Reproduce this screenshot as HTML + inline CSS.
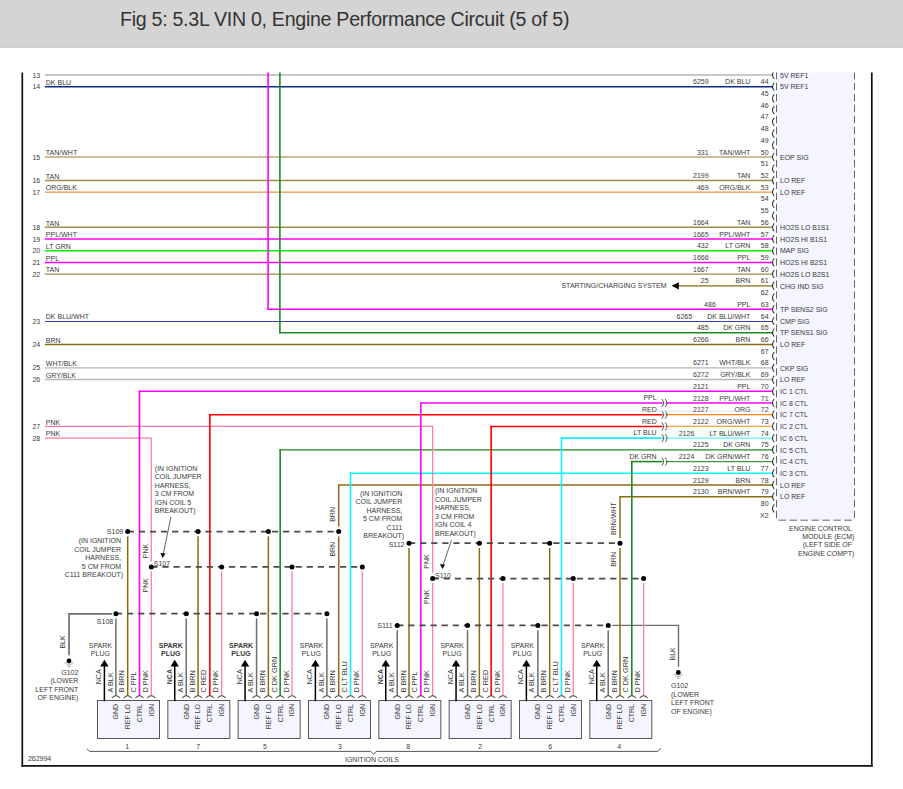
<!DOCTYPE html>
<html><head><meta charset="utf-8"><style>
html,body{margin:0;padding:0;background:#fff;}
body{width:903px;height:789px;overflow:hidden;position:relative;font-family:"Liberation Sans",sans-serif;}
#hdr{position:absolute;left:0;top:0;width:903px;height:47px;background:#d4d4d4;border-bottom:1px solid #cecece;}
#ttl{position:absolute;left:120px;top:10.4px;font-size:19.6px;letter-spacing:-0.28px;line-height:1;color:#333;white-space:nowrap;}
svg{position:absolute;left:0;top:0;}
svg text{font-family:"Liberation Sans",sans-serif;}
</style></head><body>
<div id="hdr"><div id="ttl">Fig 5: 5.3L VIN 0, Engine Performance Circuit (5 of 5)</div></div>
<svg width="903" height="789" viewBox="0 0 903 789">
<defs><clipPath id="cp"><rect x="0" y="72.5" width="903" height="717"/></clipPath></defs>
<g clip-path="url(#cp)">
<line x1="45.60" y1="74.98" x2="772.50" y2="74.98" stroke="#b6b6b6" stroke-width="1.45" stroke-linecap="square" />
<line x1="45.60" y1="86.70" x2="772.50" y2="86.70" stroke="#0b2a8c" stroke-width="1.45" stroke-linecap="square" />
<line x1="45.60" y1="156.99" x2="772.50" y2="156.99" stroke="#b9a878" stroke-width="1.45" stroke-linecap="square" />
<line x1="45.60" y1="180.42" x2="772.50" y2="180.42" stroke="#a08a4c" stroke-width="1.45" stroke-linecap="square" />
<line x1="45.60" y1="192.13" x2="772.50" y2="192.13" stroke="#ec9444" stroke-width="1.45" stroke-linecap="square" />
<line x1="45.60" y1="227.28" x2="772.50" y2="227.28" stroke="#a08a4c" stroke-width="1.45" stroke-linecap="square" />
<line x1="45.60" y1="239.00" x2="772.50" y2="239.00" stroke="#ff00ff" stroke-width="1.6" stroke-linecap="square" />
<line x1="45.60" y1="250.71" x2="772.50" y2="250.71" stroke="#10f010" stroke-width="1.6" stroke-linecap="square" />
<line x1="45.60" y1="262.43" x2="772.50" y2="262.43" stroke="#ff00ff" stroke-width="1.6" stroke-linecap="square" />
<line x1="45.60" y1="274.14" x2="772.50" y2="274.14" stroke="#a08a4c" stroke-width="1.45" stroke-linecap="square" />
<line x1="678.50" y1="285.86" x2="772.50" y2="285.86" stroke="#8b6a14" stroke-width="1.45" stroke-linecap="square" />
<line x1="268.10" y1="309.29" x2="772.50" y2="309.29" stroke="#ff00ff" stroke-width="1.6" stroke-linecap="square" />
<line x1="45.60" y1="321.50" x2="772.50" y2="321.50" stroke="#3545a0" stroke-width="1.0" stroke-linecap="square" />
<line x1="279.90" y1="332.71" x2="772.50" y2="332.71" stroke="#1f8a1f" stroke-width="1.45" stroke-linecap="square" />
<line x1="45.60" y1="344.43" x2="772.50" y2="344.43" stroke="#8b6a14" stroke-width="1.45" stroke-linecap="square" />
<line x1="45.60" y1="367.86" x2="772.50" y2="367.86" stroke="#b6b6b6" stroke-width="1.45" stroke-linecap="square" />
<line x1="45.60" y1="379.57" x2="772.50" y2="379.57" stroke="#b6b6b6" stroke-width="1.45" stroke-linecap="square" />
<line x1="139.50" y1="391.29" x2="772.50" y2="391.29" stroke="#ff00ff" stroke-width="1.6" stroke-linecap="square" />
<line x1="280.16" y1="449.87" x2="772.50" y2="449.87" stroke="#1f8a1f" stroke-width="1.45" stroke-linecap="square" />
<line x1="350.49" y1="473.29" x2="772.50" y2="473.29" stroke="#12f0ff" stroke-width="1.6" stroke-linecap="square" />
<line x1="338.69" y1="485.01" x2="772.50" y2="485.01" stroke="#8b6a14" stroke-width="1.45" stroke-linecap="square" />
<line x1="620.01" y1="496.72" x2="772.50" y2="496.72" stroke="#8b6a14" stroke-width="1.45" stroke-linecap="square" />
<line x1="420.82" y1="403.00" x2="661.80" y2="403.00" stroke="#ff00ff" stroke-width="1.6" stroke-linecap="square" />
<line x1="666.30" y1="403.00" x2="772.50" y2="403.00" stroke="#ff00ff" stroke-width="1.3" stroke-linecap="square" />
<line x1="209.83" y1="414.72" x2="661.80" y2="414.72" stroke="#ff0000" stroke-width="1.6" stroke-linecap="square" />
<line x1="666.30" y1="414.72" x2="772.50" y2="414.72" stroke="#ff8000" stroke-width="1.3" stroke-linecap="square" />
<line x1="491.15" y1="426.44" x2="661.80" y2="426.44" stroke="#ff0000" stroke-width="1.6" stroke-linecap="square" />
<line x1="666.30" y1="426.44" x2="772.50" y2="426.44" stroke="#ffa24a" stroke-width="1.3" stroke-linecap="square" />
<line x1="561.48" y1="438.15" x2="661.80" y2="438.15" stroke="#12f0ff" stroke-width="1.6" stroke-linecap="square" />
<line x1="666.30" y1="438.15" x2="772.50" y2="438.15" stroke="#5ef5ff" stroke-width="1.3" stroke-linecap="square" />
<line x1="631.81" y1="461.58" x2="661.80" y2="461.58" stroke="#1f8a1f" stroke-width="1.6" stroke-linecap="square" />
<line x1="666.30" y1="461.58" x2="772.50" y2="461.58" stroke="#3f9a3f" stroke-width="1.3" stroke-linecap="square" />
<line x1="268.10" y1="72.00" x2="268.10" y2="309.29" stroke="#ff00ff" stroke-width="1.6" stroke-linecap="square" />
<line x1="279.90" y1="72.00" x2="279.90" y2="332.71" stroke="#1f8a1f" stroke-width="1.6" stroke-linecap="square" />
<line x1="45.60" y1="426.44" x2="432.62" y2="426.44" stroke="#ff7f9c" stroke-width="1.3" stroke-linecap="square" />
<line x1="45.60" y1="438.15" x2="151.30" y2="438.15" stroke="#ff7f9c" stroke-width="1.3" stroke-linecap="square" />
<polyline points="111.90,613.90 69.00,613.90 69.00,655.30" fill="none" stroke="#6e6e6e" stroke-width="1.7" />
<polyline points="612.21,625.40 678.50,625.40 678.50,666.80" fill="none" stroke="#6e6e6e" stroke-width="1.4" />
<line x1="115.90" y1="619.30" x2="115.90" y2="695.20" stroke="#6e6e6e" stroke-width="1.5" stroke-linecap="square" />
<line x1="127.70" y1="537.10" x2="127.70" y2="695.20" stroke="#8b6a14" stroke-width="1.5" stroke-linecap="square" />
<line x1="139.50" y1="391.29" x2="139.50" y2="695.20" stroke="#ff00ff" stroke-width="1.6" stroke-linecap="square" />
<line x1="151.30" y1="438.15" x2="151.30" y2="561.40" stroke="#ff7f9c" stroke-width="1.3" stroke-linecap="butt" />
<line x1="151.30" y1="571.90" x2="151.30" y2="695.20" stroke="#ff7f9c" stroke-width="1.3" stroke-linecap="square" />
<line x1="186.23" y1="619.30" x2="186.23" y2="695.20" stroke="#6e6e6e" stroke-width="1.5" stroke-linecap="square" />
<line x1="198.03" y1="537.10" x2="198.03" y2="695.20" stroke="#8b6a14" stroke-width="1.5" stroke-linecap="square" />
<line x1="209.83" y1="414.72" x2="209.83" y2="695.20" stroke="#ff0000" stroke-width="1.6" stroke-linecap="square" />
<line x1="221.63" y1="571.90" x2="221.63" y2="695.20" stroke="#ff7f9c" stroke-width="1.3" stroke-linecap="square" />
<line x1="256.56" y1="619.30" x2="256.56" y2="695.20" stroke="#6e6e6e" stroke-width="1.5" stroke-linecap="square" />
<line x1="268.36" y1="537.10" x2="268.36" y2="695.20" stroke="#8b6a14" stroke-width="1.5" stroke-linecap="square" />
<line x1="280.16" y1="449.87" x2="280.16" y2="695.20" stroke="#1f8a1f" stroke-width="1.6" stroke-linecap="square" />
<line x1="291.96" y1="571.90" x2="291.96" y2="695.20" stroke="#ff7f9c" stroke-width="1.3" stroke-linecap="square" />
<line x1="326.89" y1="619.30" x2="326.89" y2="695.20" stroke="#6e6e6e" stroke-width="1.5" stroke-linecap="square" />
<line x1="338.69" y1="485.01" x2="338.69" y2="526.60" stroke="#8b6a14" stroke-width="1.5" stroke-linecap="butt" />
<line x1="338.69" y1="537.10" x2="338.69" y2="695.20" stroke="#8b6a14" stroke-width="1.5" stroke-linecap="square" />
<line x1="350.49" y1="473.29" x2="350.49" y2="695.20" stroke="#12f0ff" stroke-width="1.6" stroke-linecap="square" />
<line x1="362.29" y1="571.90" x2="362.29" y2="695.20" stroke="#ff7f9c" stroke-width="1.3" stroke-linecap="square" />
<line x1="397.22" y1="631.00" x2="397.22" y2="695.20" stroke="#6e6e6e" stroke-width="1.5" stroke-linecap="square" />
<line x1="409.02" y1="548.70" x2="409.02" y2="695.20" stroke="#8b6a14" stroke-width="1.5" stroke-linecap="square" />
<line x1="420.82" y1="403.00" x2="420.82" y2="695.20" stroke="#ff00ff" stroke-width="1.6" stroke-linecap="square" />
<line x1="432.62" y1="426.44" x2="432.62" y2="573.10" stroke="#ff7f9c" stroke-width="1.3" stroke-linecap="butt" />
<line x1="432.62" y1="583.60" x2="432.62" y2="695.20" stroke="#ff7f9c" stroke-width="1.3" stroke-linecap="square" />
<line x1="467.55" y1="631.00" x2="467.55" y2="695.20" stroke="#6e6e6e" stroke-width="1.5" stroke-linecap="square" />
<line x1="479.35" y1="548.70" x2="479.35" y2="695.20" stroke="#8b6a14" stroke-width="1.5" stroke-linecap="square" />
<line x1="491.15" y1="426.44" x2="491.15" y2="695.20" stroke="#ff0000" stroke-width="1.6" stroke-linecap="square" />
<line x1="502.95" y1="583.60" x2="502.95" y2="695.20" stroke="#ff7f9c" stroke-width="1.3" stroke-linecap="square" />
<line x1="537.88" y1="631.00" x2="537.88" y2="695.20" stroke="#6e6e6e" stroke-width="1.5" stroke-linecap="square" />
<line x1="549.68" y1="548.70" x2="549.68" y2="695.20" stroke="#8b6a14" stroke-width="1.5" stroke-linecap="square" />
<line x1="561.48" y1="438.15" x2="561.48" y2="695.20" stroke="#12f0ff" stroke-width="1.6" stroke-linecap="square" />
<line x1="573.28" y1="583.60" x2="573.28" y2="695.20" stroke="#ff7f9c" stroke-width="1.3" stroke-linecap="square" />
<line x1="608.21" y1="631.00" x2="608.21" y2="695.20" stroke="#6e6e6e" stroke-width="1.5" stroke-linecap="square" />
<line x1="620.01" y1="496.72" x2="620.01" y2="538.20" stroke="#8b6a14" stroke-width="1.5" stroke-linecap="butt" />
<line x1="620.01" y1="548.70" x2="620.01" y2="695.20" stroke="#8b6a14" stroke-width="1.5" stroke-linecap="square" />
<line x1="631.81" y1="461.58" x2="631.81" y2="695.20" stroke="#1f8a1f" stroke-width="1.6" stroke-linecap="square" />
<line x1="643.61" y1="583.60" x2="643.61" y2="695.20" stroke="#ff7f9c" stroke-width="1.3" stroke-linecap="square" />
<line x1="127.70" y1="531.60" x2="338.69" y2="531.60" stroke="#4a4a4a" stroke-width="1.7" stroke-linecap="butt" stroke-dasharray="6.2 4.9"/>
<line x1="151.30" y1="566.90" x2="362.29" y2="566.90" stroke="#4a4a4a" stroke-width="1.7" stroke-linecap="butt" stroke-dasharray="6.2 4.9"/>
<line x1="115.90" y1="613.70" x2="326.89" y2="613.70" stroke="#4a4a4a" stroke-width="1.7" stroke-linecap="butt" stroke-dasharray="6.2 4.9"/>
<line x1="409.02" y1="543.20" x2="620.01" y2="543.20" stroke="#4a4a4a" stroke-width="1.7" stroke-linecap="butt" stroke-dasharray="6.2 4.9"/>
<line x1="432.62" y1="578.60" x2="643.61" y2="578.60" stroke="#4a4a4a" stroke-width="1.7" stroke-linecap="butt" stroke-dasharray="6.2 4.9"/>
<line x1="397.22" y1="625.40" x2="608.21" y2="625.40" stroke="#4a4a4a" stroke-width="1.7" stroke-linecap="butt" stroke-dasharray="6.2 4.9"/>
<circle cx="127.70" cy="531.60" r="2.5" fill="#000"/>
<circle cx="198.03" cy="531.60" r="2.5" fill="#000"/>
<circle cx="268.36" cy="531.60" r="2.5" fill="#000"/>
<circle cx="338.69" cy="531.60" r="2.5" fill="#000"/>
<circle cx="151.30" cy="566.90" r="2.5" fill="#000"/>
<circle cx="221.63" cy="566.90" r="2.5" fill="#000"/>
<circle cx="291.96" cy="566.90" r="2.5" fill="#000"/>
<circle cx="362.29" cy="566.90" r="2.5" fill="#000"/>
<circle cx="115.90" cy="613.70" r="2.5" fill="#000"/>
<circle cx="186.23" cy="613.70" r="2.5" fill="#000"/>
<circle cx="256.56" cy="613.70" r="2.5" fill="#000"/>
<circle cx="326.89" cy="613.70" r="2.5" fill="#000"/>
<circle cx="409.02" cy="543.20" r="2.5" fill="#000"/>
<circle cx="479.35" cy="543.20" r="2.5" fill="#000"/>
<circle cx="549.68" cy="543.20" r="2.5" fill="#000"/>
<circle cx="620.01" cy="543.20" r="2.5" fill="#000"/>
<circle cx="432.62" cy="578.60" r="2.5" fill="#000"/>
<circle cx="502.95" cy="578.60" r="2.5" fill="#000"/>
<circle cx="573.28" cy="578.60" r="2.5" fill="#000"/>
<circle cx="643.61" cy="578.60" r="2.5" fill="#000"/>
<circle cx="397.22" cy="625.40" r="2.5" fill="#000"/>
<circle cx="467.55" cy="625.40" r="2.5" fill="#000"/>
<circle cx="537.88" cy="625.40" r="2.5" fill="#000"/>
<circle cx="608.21" cy="625.40" r="2.5" fill="#000"/>
<rect x="776.5" y="70" width="78" height="450.2" fill="#f4f5fe"/>
<line x1="776.5" y1="70" x2="776.5" y2="518.6" stroke="#666" stroke-width="1" stroke-dasharray="7.3 3.67" stroke-dashoffset="8.94"/>
<line x1="854.5" y1="70" x2="854.5" y2="518.6" stroke="#666" stroke-width="1" stroke-dasharray="7.3 3.67" stroke-dashoffset="8.94"/>
<line x1="778.5" y1="520.2" x2="853" y2="520.2" stroke="#666" stroke-width="1" stroke-dasharray="7.5 3.47"/>
<path d="M774.3,70.98 Q770.6,74.98 774.3,78.98" fill="none" stroke="#333" stroke-width="1.05"/>
<text x="780.00" y="77.69" font-size="7.0" fill="#3a3a3a" text-anchor="start" >5V REF1</text>
<path d="M774.3,82.70 Q770.6,86.70 774.3,90.70" fill="none" stroke="#333" stroke-width="1.05"/>
<text x="768.60" y="84.30" font-size="7.0" fill="#3a3a3a" text-anchor="end" >44</text>
<text x="708.60" y="84.30" font-size="7.0" fill="#3a3a3a" text-anchor="end" >6259</text>
<text x="750.40" y="84.30" font-size="7.0" fill="#3a3a3a" text-anchor="end" >DK BLU</text>
<text x="780.00" y="89.40" font-size="7.0" fill="#3a3a3a" text-anchor="start" >5V REF1</text>
<path d="M774.3,94.42 Q770.6,98.42 774.3,102.42" fill="none" stroke="#333" stroke-width="1.05"/>
<text x="768.60" y="96.02" font-size="7.0" fill="#3a3a3a" text-anchor="end" >45</text>
<path d="M774.3,106.13 Q770.6,110.13 774.3,114.13" fill="none" stroke="#333" stroke-width="1.05"/>
<text x="768.60" y="107.73" font-size="7.0" fill="#3a3a3a" text-anchor="end" >46</text>
<path d="M774.3,117.84 Q770.6,121.84 774.3,125.84" fill="none" stroke="#333" stroke-width="1.05"/>
<text x="768.60" y="119.44" font-size="7.0" fill="#3a3a3a" text-anchor="end" >47</text>
<path d="M774.3,129.56 Q770.6,133.56 774.3,137.56" fill="none" stroke="#333" stroke-width="1.05"/>
<text x="768.60" y="131.16" font-size="7.0" fill="#3a3a3a" text-anchor="end" >48</text>
<path d="M774.3,141.28 Q770.6,145.28 774.3,149.28" fill="none" stroke="#333" stroke-width="1.05"/>
<text x="768.60" y="142.88" font-size="7.0" fill="#3a3a3a" text-anchor="end" >49</text>
<path d="M774.3,152.99 Q770.6,156.99 774.3,160.99" fill="none" stroke="#333" stroke-width="1.05"/>
<text x="768.60" y="154.59" font-size="7.0" fill="#3a3a3a" text-anchor="end" >50</text>
<text x="708.60" y="154.59" font-size="7.0" fill="#3a3a3a" text-anchor="end" >331</text>
<text x="750.40" y="154.59" font-size="7.0" fill="#3a3a3a" text-anchor="end" >TAN/WHT</text>
<text x="780.00" y="159.69" font-size="7.0" fill="#3a3a3a" text-anchor="start" >EOP SIG</text>
<path d="M774.3,164.70 Q770.6,168.70 774.3,172.70" fill="none" stroke="#333" stroke-width="1.05"/>
<text x="768.60" y="166.30" font-size="7.0" fill="#3a3a3a" text-anchor="end" >51</text>
<path d="M774.3,176.42 Q770.6,180.42 774.3,184.42" fill="none" stroke="#333" stroke-width="1.05"/>
<text x="768.60" y="178.02" font-size="7.0" fill="#3a3a3a" text-anchor="end" >52</text>
<text x="708.60" y="178.02" font-size="7.0" fill="#3a3a3a" text-anchor="end" >2199</text>
<text x="750.40" y="178.02" font-size="7.0" fill="#3a3a3a" text-anchor="end" >TAN</text>
<text x="780.00" y="183.12" font-size="7.0" fill="#3a3a3a" text-anchor="start" >LO REF</text>
<path d="M774.3,188.13 Q770.6,192.13 774.3,196.13" fill="none" stroke="#333" stroke-width="1.05"/>
<text x="768.60" y="189.73" font-size="7.0" fill="#3a3a3a" text-anchor="end" >53</text>
<text x="708.60" y="189.73" font-size="7.0" fill="#3a3a3a" text-anchor="end" >469</text>
<text x="750.40" y="189.73" font-size="7.0" fill="#3a3a3a" text-anchor="end" >ORG/BLK</text>
<text x="780.00" y="194.83" font-size="7.0" fill="#3a3a3a" text-anchor="start" >LO REF</text>
<path d="M774.3,199.85 Q770.6,203.85 774.3,207.85" fill="none" stroke="#333" stroke-width="1.05"/>
<text x="768.60" y="201.45" font-size="7.0" fill="#3a3a3a" text-anchor="end" >54</text>
<path d="M774.3,211.56 Q770.6,215.56 774.3,219.56" fill="none" stroke="#333" stroke-width="1.05"/>
<text x="768.60" y="213.16" font-size="7.0" fill="#3a3a3a" text-anchor="end" >55</text>
<path d="M774.3,223.28 Q770.6,227.28 774.3,231.28" fill="none" stroke="#333" stroke-width="1.05"/>
<text x="768.60" y="224.88" font-size="7.0" fill="#3a3a3a" text-anchor="end" >56</text>
<text x="708.60" y="224.88" font-size="7.0" fill="#3a3a3a" text-anchor="end" >1664</text>
<text x="750.40" y="224.88" font-size="7.0" fill="#3a3a3a" text-anchor="end" >TAN</text>
<text x="780.00" y="229.98" font-size="7.0" fill="#3a3a3a" text-anchor="start" >HO2S LO B1S1</text>
<path d="M774.3,235.00 Q770.6,239.00 774.3,243.00" fill="none" stroke="#333" stroke-width="1.05"/>
<text x="768.60" y="236.59" font-size="7.0" fill="#3a3a3a" text-anchor="end" >57</text>
<text x="708.60" y="236.59" font-size="7.0" fill="#3a3a3a" text-anchor="end" >1665</text>
<text x="750.40" y="236.59" font-size="7.0" fill="#3a3a3a" text-anchor="end" >PPL/WHT</text>
<text x="780.00" y="241.69" font-size="7.0" fill="#3a3a3a" text-anchor="start" >HO2S HI B1S1</text>
<path d="M774.3,246.71 Q770.6,250.71 774.3,254.71" fill="none" stroke="#333" stroke-width="1.05"/>
<text x="768.60" y="248.31" font-size="7.0" fill="#3a3a3a" text-anchor="end" >58</text>
<text x="708.60" y="248.31" font-size="7.0" fill="#3a3a3a" text-anchor="end" >432</text>
<text x="750.40" y="248.31" font-size="7.0" fill="#3a3a3a" text-anchor="end" >LT GRN</text>
<text x="780.00" y="253.41" font-size="7.0" fill="#3a3a3a" text-anchor="start" >MAP SIG</text>
<path d="M774.3,258.43 Q770.6,262.43 774.3,266.43" fill="none" stroke="#333" stroke-width="1.05"/>
<text x="768.60" y="260.03" font-size="7.0" fill="#3a3a3a" text-anchor="end" >59</text>
<text x="708.60" y="260.03" font-size="7.0" fill="#3a3a3a" text-anchor="end" >1666</text>
<text x="750.40" y="260.03" font-size="7.0" fill="#3a3a3a" text-anchor="end" >PPL</text>
<text x="780.00" y="265.12" font-size="7.0" fill="#3a3a3a" text-anchor="start" >HO2S HI B2S1</text>
<path d="M774.3,270.14 Q770.6,274.14 774.3,278.14" fill="none" stroke="#333" stroke-width="1.05"/>
<text x="768.60" y="271.74" font-size="7.0" fill="#3a3a3a" text-anchor="end" >60</text>
<text x="708.60" y="271.74" font-size="7.0" fill="#3a3a3a" text-anchor="end" >1667</text>
<text x="750.40" y="271.74" font-size="7.0" fill="#3a3a3a" text-anchor="end" >TAN</text>
<text x="780.00" y="276.84" font-size="7.0" fill="#3a3a3a" text-anchor="start" >HO2S LO B2S1</text>
<path d="M774.3,281.86 Q770.6,285.86 774.3,289.86" fill="none" stroke="#333" stroke-width="1.05"/>
<text x="768.60" y="283.46" font-size="7.0" fill="#3a3a3a" text-anchor="end" >61</text>
<text x="708.60" y="283.46" font-size="7.0" fill="#3a3a3a" text-anchor="end" >25</text>
<text x="750.40" y="283.46" font-size="7.0" fill="#3a3a3a" text-anchor="end" >BRN</text>
<text x="780.00" y="288.56" font-size="7.0" fill="#3a3a3a" text-anchor="start" >CHG IND SIG</text>
<path d="M774.3,293.57 Q770.6,297.57 774.3,301.57" fill="none" stroke="#333" stroke-width="1.05"/>
<text x="768.60" y="295.17" font-size="7.0" fill="#3a3a3a" text-anchor="end" >62</text>
<path d="M774.3,305.29 Q770.6,309.29 774.3,313.29" fill="none" stroke="#333" stroke-width="1.05"/>
<text x="768.60" y="306.89" font-size="7.0" fill="#3a3a3a" text-anchor="end" >63</text>
<text x="715.80" y="306.89" font-size="7.0" fill="#3a3a3a" text-anchor="end" >486</text>
<text x="750.40" y="306.89" font-size="7.0" fill="#3a3a3a" text-anchor="end" >PPL</text>
<text x="780.00" y="311.99" font-size="7.0" fill="#3a3a3a" text-anchor="start" >TP SENS2 SIG</text>
<path d="M774.3,317.00 Q770.6,321.00 774.3,325.00" fill="none" stroke="#333" stroke-width="1.05"/>
<text x="768.60" y="318.60" font-size="7.0" fill="#3a3a3a" text-anchor="end" >64</text>
<text x="692.10" y="318.60" font-size="7.0" fill="#3a3a3a" text-anchor="end" >6265</text>
<text x="750.40" y="318.60" font-size="7.0" fill="#3a3a3a" text-anchor="end" >DK BLU/WHT</text>
<text x="780.00" y="323.70" font-size="7.0" fill="#3a3a3a" text-anchor="start" >CMP SIG</text>
<path d="M774.3,328.71 Q770.6,332.71 774.3,336.71" fill="none" stroke="#333" stroke-width="1.05"/>
<text x="768.60" y="330.31" font-size="7.0" fill="#3a3a3a" text-anchor="end" >65</text>
<text x="708.60" y="330.31" font-size="7.0" fill="#3a3a3a" text-anchor="end" >485</text>
<text x="750.40" y="330.31" font-size="7.0" fill="#3a3a3a" text-anchor="end" >DK GRN</text>
<text x="780.00" y="335.41" font-size="7.0" fill="#3a3a3a" text-anchor="start" >TP SENS1 SIG</text>
<path d="M774.3,340.43 Q770.6,344.43 774.3,348.43" fill="none" stroke="#333" stroke-width="1.05"/>
<text x="768.60" y="342.03" font-size="7.0" fill="#3a3a3a" text-anchor="end" >66</text>
<text x="708.60" y="342.03" font-size="7.0" fill="#3a3a3a" text-anchor="end" >6266</text>
<text x="750.40" y="342.03" font-size="7.0" fill="#3a3a3a" text-anchor="end" >BRN</text>
<text x="780.00" y="347.13" font-size="7.0" fill="#3a3a3a" text-anchor="start" >LO REF</text>
<path d="M774.3,352.14 Q770.6,356.14 774.3,360.14" fill="none" stroke="#333" stroke-width="1.05"/>
<text x="768.60" y="353.75" font-size="7.0" fill="#3a3a3a" text-anchor="end" >67</text>
<path d="M774.3,363.86 Q770.6,367.86 774.3,371.86" fill="none" stroke="#333" stroke-width="1.05"/>
<text x="768.60" y="365.46" font-size="7.0" fill="#3a3a3a" text-anchor="end" >68</text>
<text x="708.60" y="365.46" font-size="7.0" fill="#3a3a3a" text-anchor="end" >6271</text>
<text x="750.40" y="365.46" font-size="7.0" fill="#3a3a3a" text-anchor="end" >WHT/BLK</text>
<text x="780.00" y="370.56" font-size="7.0" fill="#3a3a3a" text-anchor="start" >CKP SIG</text>
<path d="M774.3,375.57 Q770.6,379.57 774.3,383.57" fill="none" stroke="#333" stroke-width="1.05"/>
<text x="768.60" y="377.18" font-size="7.0" fill="#3a3a3a" text-anchor="end" >69</text>
<text x="708.60" y="377.18" font-size="7.0" fill="#3a3a3a" text-anchor="end" >6272</text>
<text x="750.40" y="377.18" font-size="7.0" fill="#3a3a3a" text-anchor="end" >GRY/BLK</text>
<text x="780.00" y="382.27" font-size="7.0" fill="#3a3a3a" text-anchor="start" >LO REF</text>
<path d="M774.3,387.29 Q770.6,391.29 774.3,395.29" fill="none" stroke="#333" stroke-width="1.05"/>
<text x="768.60" y="388.89" font-size="7.0" fill="#3a3a3a" text-anchor="end" >70</text>
<text x="708.60" y="388.89" font-size="7.0" fill="#3a3a3a" text-anchor="end" >2121</text>
<text x="750.40" y="388.89" font-size="7.0" fill="#3a3a3a" text-anchor="end" >PPL</text>
<text x="780.00" y="393.99" font-size="7.0" fill="#3a3a3a" text-anchor="start" >IC 1 CTL</text>
<path d="M774.3,399.00 Q770.6,403.00 774.3,407.00" fill="none" stroke="#333" stroke-width="1.05"/>
<text x="768.60" y="400.61" font-size="7.0" fill="#3a3a3a" text-anchor="end" >71</text>
<text x="708.60" y="400.61" font-size="7.0" fill="#3a3a3a" text-anchor="end" >2128</text>
<text x="750.40" y="400.61" font-size="7.0" fill="#3a3a3a" text-anchor="end" >PPL/WHT</text>
<text x="780.00" y="405.70" font-size="7.0" fill="#3a3a3a" text-anchor="start" >IC 8 CTL</text>
<path d="M774.3,410.72 Q770.6,414.72 774.3,418.72" fill="none" stroke="#333" stroke-width="1.05"/>
<text x="768.60" y="412.32" font-size="7.0" fill="#3a3a3a" text-anchor="end" >72</text>
<text x="708.60" y="412.32" font-size="7.0" fill="#3a3a3a" text-anchor="end" >2127</text>
<text x="750.40" y="412.32" font-size="7.0" fill="#3a3a3a" text-anchor="end" >ORG</text>
<text x="780.00" y="417.42" font-size="7.0" fill="#3a3a3a" text-anchor="start" >IC 7 CTL</text>
<path d="M774.3,422.44 Q770.6,426.44 774.3,430.44" fill="none" stroke="#333" stroke-width="1.05"/>
<text x="768.60" y="424.04" font-size="7.0" fill="#3a3a3a" text-anchor="end" >73</text>
<text x="708.60" y="424.04" font-size="7.0" fill="#3a3a3a" text-anchor="end" >2122</text>
<text x="750.40" y="424.04" font-size="7.0" fill="#3a3a3a" text-anchor="end" >ORG/WHT</text>
<text x="780.00" y="429.13" font-size="7.0" fill="#3a3a3a" text-anchor="start" >IC 2 CTL</text>
<path d="M774.3,434.15 Q770.6,438.15 774.3,442.15" fill="none" stroke="#333" stroke-width="1.05"/>
<text x="768.60" y="435.75" font-size="7.0" fill="#3a3a3a" text-anchor="end" >74</text>
<text x="694.30" y="435.75" font-size="7.0" fill="#3a3a3a" text-anchor="end" >2126</text>
<text x="750.40" y="435.75" font-size="7.0" fill="#3a3a3a" text-anchor="end" >LT BLU/WHT</text>
<text x="780.00" y="440.85" font-size="7.0" fill="#3a3a3a" text-anchor="start" >IC 6 CTL</text>
<path d="M774.3,445.87 Q770.6,449.87 774.3,453.87" fill="none" stroke="#333" stroke-width="1.05"/>
<text x="768.60" y="447.47" font-size="7.0" fill="#3a3a3a" text-anchor="end" >75</text>
<text x="708.60" y="447.47" font-size="7.0" fill="#3a3a3a" text-anchor="end" >2125</text>
<text x="750.40" y="447.47" font-size="7.0" fill="#3a3a3a" text-anchor="end" >DK GRN</text>
<text x="780.00" y="452.56" font-size="7.0" fill="#3a3a3a" text-anchor="start" >IC 5 CTL</text>
<path d="M774.3,457.58 Q770.6,461.58 774.3,465.58" fill="none" stroke="#333" stroke-width="1.05"/>
<text x="768.60" y="459.18" font-size="7.0" fill="#3a3a3a" text-anchor="end" >76</text>
<text x="694.30" y="459.18" font-size="7.0" fill="#3a3a3a" text-anchor="end" >2124</text>
<text x="750.40" y="459.18" font-size="7.0" fill="#3a3a3a" text-anchor="end" >DK GRN/WHT</text>
<text x="780.00" y="464.28" font-size="7.0" fill="#3a3a3a" text-anchor="start" >IC 4 CTL</text>
<path d="M774.3,469.29 Q770.6,473.29 774.3,477.29" fill="none" stroke="#333" stroke-width="1.05"/>
<text x="768.60" y="470.89" font-size="7.0" fill="#3a3a3a" text-anchor="end" >77</text>
<text x="708.60" y="470.89" font-size="7.0" fill="#3a3a3a" text-anchor="end" >2123</text>
<text x="750.40" y="470.89" font-size="7.0" fill="#3a3a3a" text-anchor="end" >LT BLU</text>
<text x="780.00" y="475.99" font-size="7.0" fill="#3a3a3a" text-anchor="start" >IC 3 CTL</text>
<path d="M774.3,481.01 Q770.6,485.01 774.3,489.01" fill="none" stroke="#333" stroke-width="1.05"/>
<text x="768.60" y="482.61" font-size="7.0" fill="#3a3a3a" text-anchor="end" >78</text>
<text x="708.60" y="482.61" font-size="7.0" fill="#3a3a3a" text-anchor="end" >2129</text>
<text x="750.40" y="482.61" font-size="7.0" fill="#3a3a3a" text-anchor="end" >BRN</text>
<text x="780.00" y="487.71" font-size="7.0" fill="#3a3a3a" text-anchor="start" >LO REF</text>
<path d="M774.3,492.72 Q770.6,496.72 774.3,500.72" fill="none" stroke="#333" stroke-width="1.05"/>
<text x="768.60" y="494.32" font-size="7.0" fill="#3a3a3a" text-anchor="end" >79</text>
<text x="708.60" y="494.32" font-size="7.0" fill="#3a3a3a" text-anchor="end" >2130</text>
<text x="750.40" y="494.32" font-size="7.0" fill="#3a3a3a" text-anchor="end" >BRN/WHT</text>
<text x="780.00" y="499.42" font-size="7.0" fill="#3a3a3a" text-anchor="start" >LO REF</text>
<path d="M774.3,504.44 Q770.6,508.44 774.3,512.44" fill="none" stroke="#333" stroke-width="1.05"/>
<text x="768.60" y="506.04" font-size="7.0" fill="#3a3a3a" text-anchor="end" >80</text>
<text x="768.60" y="517.75" font-size="7.0" fill="#3a3a3a" text-anchor="end" >X2</text>
<text x="852.00" y="530.50" font-size="7.0" fill="#3a3a3a" text-anchor="end" >ENGINE CONTROL</text>
<text x="854.40" y="538.90" font-size="7.0" fill="#3a3a3a" text-anchor="end" >MODULE (ECM)</text>
<text x="852.00" y="547.30" font-size="7.0" fill="#3a3a3a" text-anchor="end" >(LEFT SIDE OF</text>
<text x="854.40" y="555.70" font-size="7.0" fill="#3a3a3a" text-anchor="end" >ENGINE COMPT)</text>
<path d="M671.6,285.86 L678.8,282.25 L678.8,289.46 Z" fill="#000"/>
<text x="666.60" y="288.36" font-size="7.0" fill="#3a3a3a" text-anchor="end" >STARTING/CHARGING SYSTEM</text>
<path d="M661.80,399.00 Q665.40,403.00 661.80,407.00" fill="none" stroke="#444" stroke-width="0.9"/>
<path d="M665.20,399.00 Q668.80,403.00 665.20,407.00" fill="none" stroke="#444" stroke-width="0.9"/>
<text x="656.70" y="400.11" font-size="7.0" fill="#3a3a3a" text-anchor="end" >PPL</text>
<path d="M661.80,410.72 Q665.40,414.72 661.80,418.72" fill="none" stroke="#444" stroke-width="0.9"/>
<path d="M665.20,410.72 Q668.80,414.72 665.20,418.72" fill="none" stroke="#444" stroke-width="0.9"/>
<text x="656.70" y="411.82" font-size="7.0" fill="#3a3a3a" text-anchor="end" >RED</text>
<path d="M661.80,422.44 Q665.40,426.44 661.80,430.44" fill="none" stroke="#444" stroke-width="0.9"/>
<path d="M665.20,422.44 Q668.80,426.44 665.20,430.44" fill="none" stroke="#444" stroke-width="0.9"/>
<text x="656.70" y="423.54" font-size="7.0" fill="#3a3a3a" text-anchor="end" >RED</text>
<path d="M661.80,434.15 Q665.40,438.15 661.80,442.15" fill="none" stroke="#444" stroke-width="0.9"/>
<path d="M665.20,434.15 Q668.80,438.15 665.20,442.15" fill="none" stroke="#444" stroke-width="0.9"/>
<text x="656.70" y="435.25" font-size="7.0" fill="#3a3a3a" text-anchor="end" >LT BLU</text>
<path d="M661.80,457.58 Q665.40,461.58 661.80,465.58" fill="none" stroke="#444" stroke-width="0.9"/>
<path d="M665.20,457.58 Q668.80,461.58 665.20,465.58" fill="none" stroke="#444" stroke-width="0.9"/>
<text x="656.70" y="458.68" font-size="7.0" fill="#3a3a3a" text-anchor="end" >DK GRN</text>
<text x="40.20" y="77.58" font-size="7.0" fill="#3a3a3a" text-anchor="end" >13</text>
<text x="40.20" y="89.30" font-size="7.0" fill="#3a3a3a" text-anchor="end" >14</text>
<text x="45.80" y="85.00" font-size="7.0" fill="#3a3a3a" text-anchor="start" >DK BLU</text>
<text x="40.20" y="159.59" font-size="7.0" fill="#3a3a3a" text-anchor="end" >15</text>
<text x="45.80" y="155.29" font-size="7.0" fill="#3a3a3a" text-anchor="start" >TAN/WHT</text>
<text x="40.20" y="183.02" font-size="7.0" fill="#3a3a3a" text-anchor="end" >16</text>
<text x="45.80" y="178.72" font-size="7.0" fill="#3a3a3a" text-anchor="start" >TAN</text>
<text x="40.20" y="194.73" font-size="7.0" fill="#3a3a3a" text-anchor="end" >17</text>
<text x="45.80" y="190.44" font-size="7.0" fill="#3a3a3a" text-anchor="start" >ORG/BLK</text>
<text x="40.20" y="229.88" font-size="7.0" fill="#3a3a3a" text-anchor="end" >18</text>
<text x="45.80" y="225.58" font-size="7.0" fill="#3a3a3a" text-anchor="start" >TAN</text>
<text x="40.20" y="241.59" font-size="7.0" fill="#3a3a3a" text-anchor="end" >19</text>
<text x="45.80" y="237.30" font-size="7.0" fill="#3a3a3a" text-anchor="start" >PPL/WHT</text>
<text x="40.20" y="253.31" font-size="7.0" fill="#3a3a3a" text-anchor="end" >20</text>
<text x="45.80" y="249.01" font-size="7.0" fill="#3a3a3a" text-anchor="start" >LT GRN</text>
<text x="40.20" y="265.03" font-size="7.0" fill="#3a3a3a" text-anchor="end" >21</text>
<text x="45.80" y="260.73" font-size="7.0" fill="#3a3a3a" text-anchor="start" >PPL</text>
<text x="40.20" y="276.74" font-size="7.0" fill="#3a3a3a" text-anchor="end" >22</text>
<text x="45.80" y="272.44" font-size="7.0" fill="#3a3a3a" text-anchor="start" >TAN</text>
<text x="40.20" y="323.60" font-size="7.0" fill="#3a3a3a" text-anchor="end" >23</text>
<text x="45.80" y="319.30" font-size="7.0" fill="#3a3a3a" text-anchor="start" >DK BLU/WHT</text>
<text x="40.20" y="347.03" font-size="7.0" fill="#3a3a3a" text-anchor="end" >24</text>
<text x="45.80" y="342.73" font-size="7.0" fill="#3a3a3a" text-anchor="start" >BRN</text>
<text x="40.20" y="370.46" font-size="7.0" fill="#3a3a3a" text-anchor="end" >25</text>
<text x="45.80" y="366.16" font-size="7.0" fill="#3a3a3a" text-anchor="start" >WHT/BLK</text>
<text x="40.20" y="382.18" font-size="7.0" fill="#3a3a3a" text-anchor="end" >26</text>
<text x="45.80" y="377.88" font-size="7.0" fill="#3a3a3a" text-anchor="start" >GRY/BLK</text>
<text x="40.20" y="429.04" font-size="7.0" fill="#3a3a3a" text-anchor="end" >27</text>
<text x="45.80" y="424.74" font-size="7.0" fill="#3a3a3a" text-anchor="start" >PNK</text>
<text x="40.20" y="440.75" font-size="7.0" fill="#3a3a3a" text-anchor="end" >28</text>
<text x="45.80" y="436.45" font-size="7.0" fill="#3a3a3a" text-anchor="start" >PNK</text>
<line x1="22.3" y1="72" x2="22.3" y2="766.7" stroke="#111" stroke-width="1.7"/>
<line x1="871.8" y1="72" x2="871.8" y2="766.7" stroke="#111" stroke-width="1.7"/>
<line x1="21.5" y1="765.9" x2="872.6" y2="765.9" stroke="#111" stroke-width="1.7"/>
<rect x="97.50" y="700.5" width="62" height="38.00" fill="#f4f5fe" stroke="#555" stroke-width="1"/>
<path d="M111.90,698.00 Q115.90,693.40 119.90,698.00" fill="none" stroke="#4a4a4a" stroke-width="1.1"/>
<path d="M123.70,698.00 Q127.70,693.40 131.70,698.00" fill="none" stroke="#4a4a4a" stroke-width="1.1"/>
<path d="M135.50,698.00 Q139.50,693.40 143.50,698.00" fill="none" stroke="#4a4a4a" stroke-width="1.1"/>
<path d="M147.30,698.00 Q151.30,693.40 155.30,698.00" fill="none" stroke="#4a4a4a" stroke-width="1.1"/>
<line x1="104.40" y1="700.50" x2="104.40" y2="665.00" stroke="#000" stroke-width="1.5" stroke-linecap="square" />
<path d="M104.40,659.8 L100.20,666.6 L108.60,666.6 Z" fill="#000"/>
<text x="100.40" y="648.40" font-size="7.0" fill="#3a3a3a" text-anchor="middle" >SPARK</text>
<text x="100.40" y="656.00" font-size="7.0" fill="#3a3a3a" text-anchor="middle" >PLUG</text>
<text transform="translate(101.21,684.20) rotate(-90)" font-size="7.0" fill="#3a3a3a" text-anchor="start" >NCA</text>
<text transform="translate(112.51,692.50) rotate(-90)" font-size="7.3" fill="#3a3a3a" text-anchor="start" >A BLK</text>
<text transform="translate(124.31,692.50) rotate(-90)" font-size="7.3" fill="#3a3a3a" text-anchor="start" >B BRN</text>
<text transform="translate(136.11,692.50) rotate(-90)" font-size="7.3" fill="#3a3a3a" text-anchor="start" >C PPL</text>
<text transform="translate(147.91,692.50) rotate(-90)" font-size="7.3" fill="#3a3a3a" text-anchor="start" >D PNK</text>
<text transform="translate(118.31,704.00) rotate(-90)" font-size="7.0" fill="#3a3a3a" text-anchor="end" >GND</text>
<text transform="translate(130.11,704.00) rotate(-90)" font-size="7.0" fill="#3a3a3a" text-anchor="end" >REF LO</text>
<text transform="translate(141.91,704.00) rotate(-90)" font-size="7.0" fill="#3a3a3a" text-anchor="end" >CTRL</text>
<text transform="translate(153.71,704.00) rotate(-90)" font-size="7.0" fill="#3a3a3a" text-anchor="end" >IGN</text>
<text x="127.30" y="748.80" font-size="7.0" fill="#3a3a3a" text-anchor="middle" >1</text>
<rect x="167.83" y="700.5" width="62" height="38.00" fill="#f4f5fe" stroke="#555" stroke-width="1"/>
<path d="M182.23,698.00 Q186.23,693.40 190.23,698.00" fill="none" stroke="#4a4a4a" stroke-width="1.1"/>
<path d="M194.03,698.00 Q198.03,693.40 202.03,698.00" fill="none" stroke="#4a4a4a" stroke-width="1.1"/>
<path d="M205.83,698.00 Q209.83,693.40 213.83,698.00" fill="none" stroke="#4a4a4a" stroke-width="1.1"/>
<path d="M217.63,698.00 Q221.63,693.40 225.63,698.00" fill="none" stroke="#4a4a4a" stroke-width="1.1"/>
<line x1="174.73" y1="700.50" x2="174.73" y2="665.00" stroke="#000" stroke-width="1.5" stroke-linecap="square" />
<path d="M174.73,659.8 L170.53,666.6 L178.93,666.6 Z" fill="#000"/>
<text x="170.73" y="648.40" font-size="7.0" fill="#3a3a3a" text-anchor="middle" font-weight="bold">SPARK</text>
<text x="170.73" y="656.00" font-size="7.0" fill="#3a3a3a" text-anchor="middle" font-weight="bold">PLUG</text>
<text transform="translate(171.54,684.20) rotate(-90)" font-size="7.0" fill="#3a3a3a" text-anchor="start" font-weight="bold">NCA</text>
<text transform="translate(182.84,692.50) rotate(-90)" font-size="7.3" fill="#3a3a3a" text-anchor="start" >A BLK</text>
<text transform="translate(194.64,692.50) rotate(-90)" font-size="7.3" fill="#3a3a3a" text-anchor="start" >B BRN</text>
<text transform="translate(206.44,692.50) rotate(-90)" font-size="7.3" fill="#3a3a3a" text-anchor="start" >C RED</text>
<text transform="translate(218.24,692.50) rotate(-90)" font-size="7.3" fill="#3a3a3a" text-anchor="start" >D PNK</text>
<text transform="translate(188.64,704.00) rotate(-90)" font-size="7.0" fill="#3a3a3a" text-anchor="end" >GND</text>
<text transform="translate(200.44,704.00) rotate(-90)" font-size="7.0" fill="#3a3a3a" text-anchor="end" >REF LO</text>
<text transform="translate(212.24,704.00) rotate(-90)" font-size="7.0" fill="#3a3a3a" text-anchor="end" >CTRL</text>
<text transform="translate(224.04,704.00) rotate(-90)" font-size="7.0" fill="#3a3a3a" text-anchor="end" >IGN</text>
<text x="198.20" y="748.80" font-size="7.0" fill="#3a3a3a" text-anchor="middle" >7</text>
<rect x="238.16" y="700.5" width="62" height="38.00" fill="#f4f5fe" stroke="#555" stroke-width="1"/>
<path d="M252.56,698.00 Q256.56,693.40 260.56,698.00" fill="none" stroke="#4a4a4a" stroke-width="1.1"/>
<path d="M264.36,698.00 Q268.36,693.40 272.36,698.00" fill="none" stroke="#4a4a4a" stroke-width="1.1"/>
<path d="M276.16,698.00 Q280.16,693.40 284.16,698.00" fill="none" stroke="#4a4a4a" stroke-width="1.1"/>
<path d="M287.96,698.00 Q291.96,693.40 295.96,698.00" fill="none" stroke="#4a4a4a" stroke-width="1.1"/>
<line x1="245.06" y1="700.50" x2="245.06" y2="665.00" stroke="#000" stroke-width="1.5" stroke-linecap="square" />
<path d="M245.06,659.8 L240.86,666.6 L249.26,666.6 Z" fill="#000"/>
<text x="241.06" y="648.40" font-size="7.0" fill="#3a3a3a" text-anchor="middle" font-weight="bold">SPARK</text>
<text x="241.06" y="656.00" font-size="7.0" fill="#3a3a3a" text-anchor="middle" font-weight="bold">PLUG</text>
<text transform="translate(241.87,684.20) rotate(-90)" font-size="7.0" fill="#3a3a3a" text-anchor="start" >NCA</text>
<text transform="translate(253.17,692.50) rotate(-90)" font-size="7.3" fill="#3a3a3a" text-anchor="start" >A BLK</text>
<text transform="translate(264.97,692.50) rotate(-90)" font-size="7.3" fill="#3a3a3a" text-anchor="start" >B BRN</text>
<text transform="translate(276.77,692.50) rotate(-90)" font-size="7.3" fill="#3a3a3a" text-anchor="start" >C DK GRN</text>
<text transform="translate(288.57,692.50) rotate(-90)" font-size="7.3" fill="#3a3a3a" text-anchor="start" >D PNK</text>
<text transform="translate(258.97,704.00) rotate(-90)" font-size="7.0" fill="#3a3a3a" text-anchor="end" >GND</text>
<text transform="translate(270.77,704.00) rotate(-90)" font-size="7.0" fill="#3a3a3a" text-anchor="end" >REF LO</text>
<text transform="translate(282.57,704.00) rotate(-90)" font-size="7.0" fill="#3a3a3a" text-anchor="end" >CTRL</text>
<text transform="translate(294.37,704.00) rotate(-90)" font-size="7.0" fill="#3a3a3a" text-anchor="end" >IGN</text>
<text x="265.00" y="748.80" font-size="7.0" fill="#3a3a3a" text-anchor="middle" >5</text>
<rect x="308.49" y="700.5" width="62" height="38.00" fill="#f4f5fe" stroke="#555" stroke-width="1"/>
<path d="M322.89,698.00 Q326.89,693.40 330.89,698.00" fill="none" stroke="#4a4a4a" stroke-width="1.1"/>
<path d="M334.69,698.00 Q338.69,693.40 342.69,698.00" fill="none" stroke="#4a4a4a" stroke-width="1.1"/>
<path d="M346.49,698.00 Q350.49,693.40 354.49,698.00" fill="none" stroke="#4a4a4a" stroke-width="1.1"/>
<path d="M358.29,698.00 Q362.29,693.40 366.29,698.00" fill="none" stroke="#4a4a4a" stroke-width="1.1"/>
<line x1="315.39" y1="700.50" x2="315.39" y2="665.00" stroke="#000" stroke-width="1.5" stroke-linecap="square" />
<path d="M315.39,659.8 L311.19,666.6 L319.59,666.6 Z" fill="#000"/>
<text x="311.39" y="648.40" font-size="7.0" fill="#3a3a3a" text-anchor="middle" >SPARK</text>
<text x="311.39" y="656.00" font-size="7.0" fill="#3a3a3a" text-anchor="middle" >PLUG</text>
<text transform="translate(312.20,684.20) rotate(-90)" font-size="7.0" fill="#3a3a3a" text-anchor="start" >NCA</text>
<text transform="translate(323.50,692.50) rotate(-90)" font-size="7.3" fill="#3a3a3a" text-anchor="start" >A BLK</text>
<text transform="translate(335.30,692.50) rotate(-90)" font-size="7.3" fill="#3a3a3a" text-anchor="start" >B BRN</text>
<text transform="translate(347.10,692.50) rotate(-90)" font-size="7.3" fill="#3a3a3a" text-anchor="start" >C LT BLU</text>
<text transform="translate(358.90,692.50) rotate(-90)" font-size="7.3" fill="#3a3a3a" text-anchor="start" >D PNK</text>
<text transform="translate(329.30,704.00) rotate(-90)" font-size="7.0" fill="#3a3a3a" text-anchor="end" >GND</text>
<text transform="translate(341.10,704.00) rotate(-90)" font-size="7.0" fill="#3a3a3a" text-anchor="end" >REF LO</text>
<text transform="translate(352.90,704.00) rotate(-90)" font-size="7.0" fill="#3a3a3a" text-anchor="end" >CTRL</text>
<text transform="translate(364.70,704.00) rotate(-90)" font-size="7.0" fill="#3a3a3a" text-anchor="end" >IGN</text>
<text x="339.90" y="748.80" font-size="7.0" fill="#3a3a3a" text-anchor="middle" >3</text>
<rect x="378.82" y="700.5" width="62" height="38.00" fill="#f4f5fe" stroke="#555" stroke-width="1"/>
<path d="M393.22,698.00 Q397.22,693.40 401.22,698.00" fill="none" stroke="#4a4a4a" stroke-width="1.1"/>
<path d="M405.02,698.00 Q409.02,693.40 413.02,698.00" fill="none" stroke="#4a4a4a" stroke-width="1.1"/>
<path d="M416.82,698.00 Q420.82,693.40 424.82,698.00" fill="none" stroke="#4a4a4a" stroke-width="1.1"/>
<path d="M428.62,698.00 Q432.62,693.40 436.62,698.00" fill="none" stroke="#4a4a4a" stroke-width="1.1"/>
<line x1="385.72" y1="700.50" x2="385.72" y2="665.00" stroke="#000" stroke-width="1.5" stroke-linecap="square" />
<path d="M385.72,659.8 L381.52,666.6 L389.92,666.6 Z" fill="#000"/>
<text x="381.72" y="648.40" font-size="7.0" fill="#3a3a3a" text-anchor="middle" >SPARK</text>
<text x="381.72" y="656.00" font-size="7.0" fill="#3a3a3a" text-anchor="middle" >PLUG</text>
<text transform="translate(382.53,684.20) rotate(-90)" font-size="7.0" fill="#3a3a3a" text-anchor="start" font-weight="bold">NCA</text>
<text transform="translate(393.83,692.50) rotate(-90)" font-size="7.3" fill="#3a3a3a" text-anchor="start" >A BLK</text>
<text transform="translate(405.63,692.50) rotate(-90)" font-size="7.3" fill="#3a3a3a" text-anchor="start" >B BRN</text>
<text transform="translate(417.43,692.50) rotate(-90)" font-size="7.3" fill="#3a3a3a" text-anchor="start" >C PPL</text>
<text transform="translate(429.23,692.50) rotate(-90)" font-size="7.3" fill="#3a3a3a" text-anchor="start" >D PNK</text>
<text transform="translate(399.63,704.00) rotate(-90)" font-size="7.0" fill="#3a3a3a" text-anchor="end" >GND</text>
<text transform="translate(411.43,704.00) rotate(-90)" font-size="7.0" fill="#3a3a3a" text-anchor="end" >REF LO</text>
<text transform="translate(423.23,704.00) rotate(-90)" font-size="7.0" fill="#3a3a3a" text-anchor="end" >CTRL</text>
<text transform="translate(435.03,704.00) rotate(-90)" font-size="7.0" fill="#3a3a3a" text-anchor="end" >IGN</text>
<text x="408.30" y="748.80" font-size="7.0" fill="#3a3a3a" text-anchor="middle" >8</text>
<rect x="449.15" y="700.5" width="62" height="38.00" fill="#f4f5fe" stroke="#555" stroke-width="1"/>
<path d="M463.55,698.00 Q467.55,693.40 471.55,698.00" fill="none" stroke="#4a4a4a" stroke-width="1.1"/>
<path d="M475.35,698.00 Q479.35,693.40 483.35,698.00" fill="none" stroke="#4a4a4a" stroke-width="1.1"/>
<path d="M487.15,698.00 Q491.15,693.40 495.15,698.00" fill="none" stroke="#4a4a4a" stroke-width="1.1"/>
<path d="M498.95,698.00 Q502.95,693.40 506.95,698.00" fill="none" stroke="#4a4a4a" stroke-width="1.1"/>
<line x1="456.05" y1="700.50" x2="456.05" y2="665.00" stroke="#000" stroke-width="1.5" stroke-linecap="square" />
<path d="M456.05,659.8 L451.85,666.6 L460.25,666.6 Z" fill="#000"/>
<text x="452.05" y="648.40" font-size="7.0" fill="#3a3a3a" text-anchor="middle" >SPARK</text>
<text x="452.05" y="656.00" font-size="7.0" fill="#3a3a3a" text-anchor="middle" >PLUG</text>
<text transform="translate(452.86,684.20) rotate(-90)" font-size="7.0" fill="#3a3a3a" text-anchor="start" >NCA</text>
<text transform="translate(464.16,692.50) rotate(-90)" font-size="7.3" fill="#3a3a3a" text-anchor="start" >A BLK</text>
<text transform="translate(475.96,692.50) rotate(-90)" font-size="7.3" fill="#3a3a3a" text-anchor="start" >B BRN</text>
<text transform="translate(487.76,692.50) rotate(-90)" font-size="7.3" fill="#3a3a3a" text-anchor="start" >C RED</text>
<text transform="translate(499.56,692.50) rotate(-90)" font-size="7.3" fill="#3a3a3a" text-anchor="start" >D PNK</text>
<text transform="translate(469.96,704.00) rotate(-90)" font-size="7.0" fill="#3a3a3a" text-anchor="end" >GND</text>
<text transform="translate(481.76,704.00) rotate(-90)" font-size="7.0" fill="#3a3a3a" text-anchor="end" >REF LO</text>
<text transform="translate(493.56,704.00) rotate(-90)" font-size="7.0" fill="#3a3a3a" text-anchor="end" >CTRL</text>
<text transform="translate(505.36,704.00) rotate(-90)" font-size="7.0" fill="#3a3a3a" text-anchor="end" >IGN</text>
<text x="480.30" y="748.80" font-size="7.0" fill="#3a3a3a" text-anchor="middle" >2</text>
<rect x="519.48" y="700.5" width="62" height="38.00" fill="#f4f5fe" stroke="#555" stroke-width="1"/>
<path d="M533.88,698.00 Q537.88,693.40 541.88,698.00" fill="none" stroke="#4a4a4a" stroke-width="1.1"/>
<path d="M545.68,698.00 Q549.68,693.40 553.68,698.00" fill="none" stroke="#4a4a4a" stroke-width="1.1"/>
<path d="M557.48,698.00 Q561.48,693.40 565.48,698.00" fill="none" stroke="#4a4a4a" stroke-width="1.1"/>
<path d="M569.28,698.00 Q573.28,693.40 577.28,698.00" fill="none" stroke="#4a4a4a" stroke-width="1.1"/>
<line x1="526.38" y1="700.50" x2="526.38" y2="665.00" stroke="#000" stroke-width="1.5" stroke-linecap="square" />
<path d="M526.38,659.8 L522.18,666.6 L530.58,666.6 Z" fill="#000"/>
<text x="522.38" y="648.40" font-size="7.0" fill="#3a3a3a" text-anchor="middle" >SPARK</text>
<text x="522.38" y="656.00" font-size="7.0" fill="#3a3a3a" text-anchor="middle" >PLUG</text>
<text transform="translate(523.19,684.20) rotate(-90)" font-size="7.0" fill="#3a3a3a" text-anchor="start" >NCA</text>
<text transform="translate(534.49,692.50) rotate(-90)" font-size="7.3" fill="#3a3a3a" text-anchor="start" >A BLK</text>
<text transform="translate(546.29,692.50) rotate(-90)" font-size="7.3" fill="#3a3a3a" text-anchor="start" >B BRN</text>
<text transform="translate(558.09,692.50) rotate(-90)" font-size="7.3" fill="#3a3a3a" text-anchor="start" >C LT BLU</text>
<text transform="translate(569.89,692.50) rotate(-90)" font-size="7.3" fill="#3a3a3a" text-anchor="start" >D PNK</text>
<text transform="translate(540.29,704.00) rotate(-90)" font-size="7.0" fill="#3a3a3a" text-anchor="end" >GND</text>
<text transform="translate(552.09,704.00) rotate(-90)" font-size="7.0" fill="#3a3a3a" text-anchor="end" >REF LO</text>
<text transform="translate(563.89,704.00) rotate(-90)" font-size="7.0" fill="#3a3a3a" text-anchor="end" >CTRL</text>
<text transform="translate(575.69,704.00) rotate(-90)" font-size="7.0" fill="#3a3a3a" text-anchor="end" >IGN</text>
<text x="550.10" y="748.80" font-size="7.0" fill="#3a3a3a" text-anchor="middle" >6</text>
<rect x="589.81" y="700.5" width="62" height="38.00" fill="#f4f5fe" stroke="#555" stroke-width="1"/>
<path d="M604.21,698.00 Q608.21,693.40 612.21,698.00" fill="none" stroke="#4a4a4a" stroke-width="1.1"/>
<path d="M616.01,698.00 Q620.01,693.40 624.01,698.00" fill="none" stroke="#4a4a4a" stroke-width="1.1"/>
<path d="M627.81,698.00 Q631.81,693.40 635.81,698.00" fill="none" stroke="#4a4a4a" stroke-width="1.1"/>
<path d="M639.61,698.00 Q643.61,693.40 647.61,698.00" fill="none" stroke="#4a4a4a" stroke-width="1.1"/>
<line x1="596.71" y1="700.50" x2="596.71" y2="665.00" stroke="#000" stroke-width="1.5" stroke-linecap="square" />
<path d="M596.71,659.8 L592.51,666.6 L600.91,666.6 Z" fill="#000"/>
<text x="592.71" y="648.40" font-size="7.0" fill="#3a3a3a" text-anchor="middle" >SPARK</text>
<text x="592.71" y="656.00" font-size="7.0" fill="#3a3a3a" text-anchor="middle" >PLUG</text>
<text transform="translate(593.52,684.20) rotate(-90)" font-size="7.0" fill="#3a3a3a" text-anchor="start" >NCA</text>
<text transform="translate(604.82,692.50) rotate(-90)" font-size="7.3" fill="#3a3a3a" text-anchor="start" >A BLK</text>
<text transform="translate(616.62,692.50) rotate(-90)" font-size="7.3" fill="#3a3a3a" text-anchor="start" >B BRN</text>
<text transform="translate(628.42,692.50) rotate(-90)" font-size="7.3" fill="#3a3a3a" text-anchor="start" >C DK GRN</text>
<text transform="translate(640.22,692.50) rotate(-90)" font-size="7.3" fill="#3a3a3a" text-anchor="start" >D PNK</text>
<text transform="translate(610.62,704.00) rotate(-90)" font-size="7.0" fill="#3a3a3a" text-anchor="end" >GND</text>
<text transform="translate(622.42,704.00) rotate(-90)" font-size="7.0" fill="#3a3a3a" text-anchor="end" >REF LO</text>
<text transform="translate(634.22,704.00) rotate(-90)" font-size="7.0" fill="#3a3a3a" text-anchor="end" >CTRL</text>
<text transform="translate(646.02,704.00) rotate(-90)" font-size="7.0" fill="#3a3a3a" text-anchor="end" >IGN</text>
<text x="619.20" y="748.80" font-size="7.0" fill="#3a3a3a" text-anchor="middle" >4</text>
<path d="M86.9,748.8 L89.6,751.4 L370.7,751.4 L373.6,754.4 L376.3,751.4 L657.8,751.4 L660.8,748.4" fill="none" stroke="#555" stroke-width="1"/>
<text x="27.90" y="761.00" font-size="7.0" fill="#3a3a3a" text-anchor="start" >262994</text>
<text x="372.00" y="762.20" font-size="7.0" fill="#3a3a3a" text-anchor="middle" >IGNITION COILS</text>
<line x1="64.5" y1="663.0" x2="73.5" y2="663.0" stroke="#999" stroke-width="0.8"/>
<line x1="66.4" y1="664.8" x2="71.6" y2="664.8" stroke="#999" stroke-width="0.8"/>
<line x1="68" y1="666.6999999999999" x2="70" y2="666.6999999999999" stroke="#777" stroke-width="0.8"/>
<circle cx="69" cy="660.8" r="2.4" fill="#000"/>
<line x1="673.8" y1="674.6" x2="682.8" y2="674.6" stroke="#999" stroke-width="0.8"/>
<line x1="675.6999999999999" y1="676.4" x2="680.9" y2="676.4" stroke="#999" stroke-width="0.8"/>
<line x1="677.3" y1="678.3" x2="679.3" y2="678.3" stroke="#777" stroke-width="0.8"/>
<circle cx="678.3" cy="672.4" r="2.4" fill="#000"/>
<text transform="translate(65.01,648.60) rotate(-90)" font-size="7.0" fill="#3a3a3a" text-anchor="start" >BLK</text>
<text x="78.40" y="674.90" font-size="7.0" fill="#3a3a3a" text-anchor="end" >G102</text>
<text x="78.40" y="683.30" font-size="7.0" fill="#3a3a3a" text-anchor="end" >(LOWER</text>
<text x="78.40" y="691.70" font-size="7.0" fill="#3a3a3a" text-anchor="end" >LEFT FRONT</text>
<text x="78.40" y="700.10" font-size="7.0" fill="#3a3a3a" text-anchor="end" >OF ENGINE)</text>
<text transform="translate(674.61,660.50) rotate(-90)" font-size="7.0" fill="#3a3a3a" text-anchor="start" >BLK</text>
<text x="671.00" y="688.20" font-size="7.0" fill="#3a3a3a" text-anchor="start" >G102</text>
<text x="671.00" y="696.70" font-size="7.0" fill="#3a3a3a" text-anchor="start" >(LOWER</text>
<text x="671.00" y="705.20" font-size="7.0" fill="#3a3a3a" text-anchor="start" >LEFT FRONT</text>
<text x="671.00" y="713.70" font-size="7.0" fill="#3a3a3a" text-anchor="start" >OF ENGINE)</text>
<text x="123.20" y="534.10" font-size="7.0" fill="#3a3a3a" text-anchor="end" >S109</text>
<text x="121.10" y="543.00" font-size="7.0" fill="#3a3a3a" text-anchor="end" >(IN IGNITION</text>
<text x="121.10" y="551.50" font-size="7.0" fill="#3a3a3a" text-anchor="end" >COIL JUMPER</text>
<text x="121.10" y="560.00" font-size="7.0" fill="#3a3a3a" text-anchor="end" >HARNESS,</text>
<text x="121.10" y="568.50" font-size="7.0" fill="#3a3a3a" text-anchor="end" >5 CM FROM</text>
<text x="123.10" y="577.00" font-size="7.0" fill="#3a3a3a" text-anchor="end" >C111 BREAKOUT)</text>
<text x="153.80" y="566.00" font-size="7.0" fill="#3a3a3a" text-anchor="start" >S107</text>
<text x="113.20" y="623.80" font-size="7.0" fill="#3a3a3a" text-anchor="end" >S108</text>
<text x="154.80" y="471.00" font-size="7.0" fill="#3a3a3a" text-anchor="start" >(IN IGNITION</text>
<text x="154.80" y="479.45" font-size="7.0" fill="#3a3a3a" text-anchor="start" >COIL JUMPER</text>
<text x="154.80" y="487.90" font-size="7.0" fill="#3a3a3a" text-anchor="start" >HARNESS,</text>
<text x="154.80" y="496.35" font-size="7.0" fill="#3a3a3a" text-anchor="start" >3 CM FROM</text>
<text x="154.80" y="504.80" font-size="7.0" fill="#3a3a3a" text-anchor="start" >IGN COIL 5</text>
<text x="154.80" y="513.25" font-size="7.0" fill="#3a3a3a" text-anchor="start" >BREAKOUT)</text>
<line x1="170.90" y1="517.00" x2="163.40" y2="553.50" stroke="#555" stroke-width="0.9" stroke-linecap="square" />
<path d="M162.6,558 L160.4,553 L165.6,553.6 Z" fill="#111"/>
<text x="404.50" y="546.70" font-size="7.0" fill="#3a3a3a" text-anchor="end" >S112</text>
<text x="402.30" y="496.00" font-size="7.0" fill="#3a3a3a" text-anchor="end" >(IN IGNITION</text>
<text x="402.30" y="504.40" font-size="7.0" fill="#3a3a3a" text-anchor="end" >COIL JUMPER</text>
<text x="402.30" y="512.80" font-size="7.0" fill="#3a3a3a" text-anchor="end" >HARNESS,</text>
<text x="402.30" y="521.20" font-size="7.0" fill="#3a3a3a" text-anchor="end" >5 CM FROM</text>
<text x="402.30" y="529.60" font-size="7.0" fill="#3a3a3a" text-anchor="end" >C111</text>
<text x="404.20" y="538.00" font-size="7.0" fill="#3a3a3a" text-anchor="end" >BREAKOUT)</text>
<text x="435.00" y="577.60" font-size="7.0" fill="#3a3a3a" text-anchor="start" >S110</text>
<text x="435.00" y="493.00" font-size="7.0" fill="#3a3a3a" text-anchor="start" >(IN IGNITION</text>
<text x="435.00" y="502.10" font-size="7.0" fill="#3a3a3a" text-anchor="start" >COIL JUMPER</text>
<text x="435.00" y="510.00" font-size="7.0" fill="#3a3a3a" text-anchor="start" >HARNESS,</text>
<text x="435.00" y="518.90" font-size="7.0" fill="#3a3a3a" text-anchor="start" >3 CM FROM</text>
<text x="435.00" y="526.90" font-size="7.0" fill="#3a3a3a" text-anchor="start" >IGN COIL 4</text>
<text x="435.00" y="536.00" font-size="7.0" fill="#3a3a3a" text-anchor="start" >BREAKOUT)</text>
<line x1="451.30" y1="540.70" x2="443.30" y2="564.50" stroke="#555" stroke-width="0.9" stroke-linecap="square" />
<path d="M442.3,569 L440.0,564 L445.2,564.8 Z" fill="#111"/>
<text x="392.60" y="627.80" font-size="7.0" fill="#3a3a3a" text-anchor="end" >S111</text>
<text transform="translate(147.71,558.20) rotate(-90)" font-size="7.0" fill="#3a3a3a" text-anchor="start" >PNK</text>
<text transform="translate(147.71,592.40) rotate(-90)" font-size="7.0" fill="#3a3a3a" text-anchor="start" >PNK</text>
<text transform="translate(335.01,521.80) rotate(-90)" font-size="7.0" fill="#3a3a3a" text-anchor="start" >BRN</text>
<text transform="translate(335.01,556.60) rotate(-90)" font-size="7.0" fill="#3a3a3a" text-anchor="start" >BRN</text>
<text transform="translate(428.91,568.70) rotate(-90)" font-size="7.0" fill="#3a3a3a" text-anchor="start" >PNK</text>
<text transform="translate(428.91,604.00) rotate(-90)" font-size="7.0" fill="#3a3a3a" text-anchor="start" >PNK</text>
<text transform="translate(615.91,535.00) rotate(-90)" font-size="7.0" fill="#3a3a3a" text-anchor="start" >BRN/WHT</text>
<text transform="translate(615.91,566.80) rotate(-90)" font-size="7.0" fill="#3a3a3a" text-anchor="start" >BRN</text>
</g>
</svg>
</body></html>
